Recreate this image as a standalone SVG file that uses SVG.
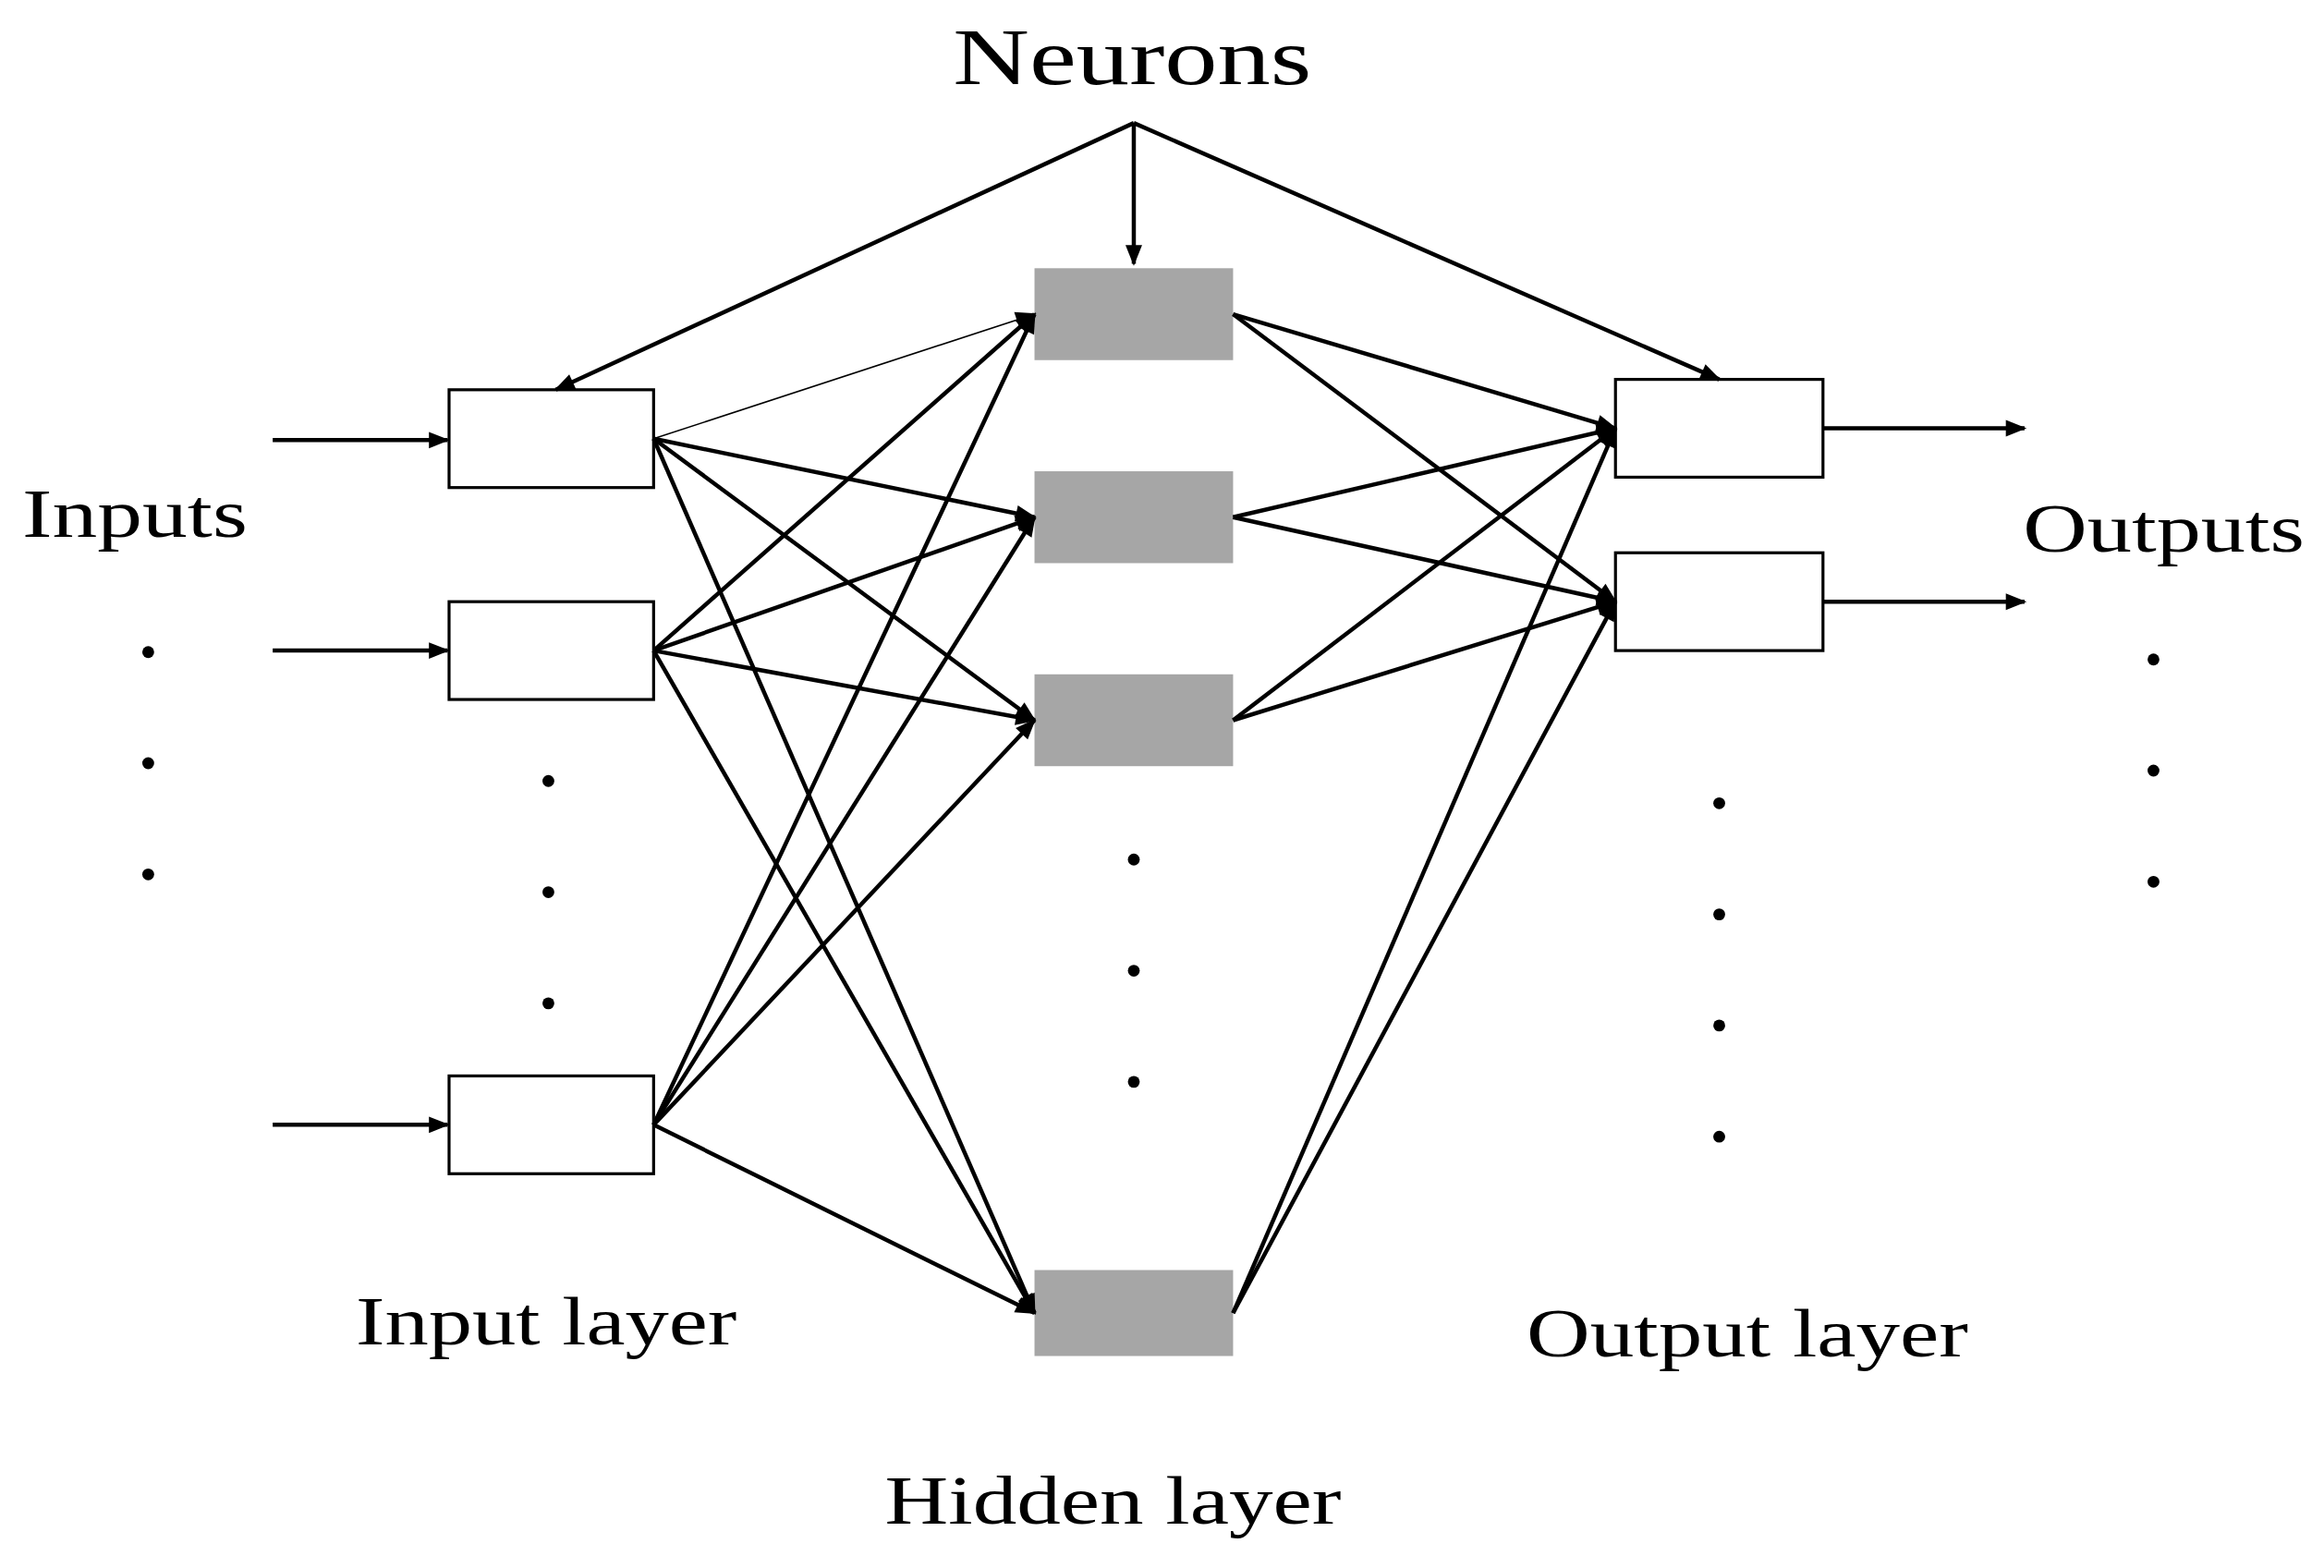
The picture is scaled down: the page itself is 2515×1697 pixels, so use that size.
<svg xmlns="http://www.w3.org/2000/svg" width="2515" height="1697" viewBox="0 0 2515 1697">
<style>
.ib{fill:#fff;stroke:#000;stroke-width:2}
.hb{fill:#a6a6a6}
.t{font-family:"Liberation Serif",serif;fill:#000}
.c line{stroke:#000;stroke-width:2.8;marker-end:url(#a)}
.d{fill:#000}
</style>
<defs><marker id="a" viewBox="0 0 10 10" refX="9" refY="5" markerWidth="16" markerHeight="14" orient="auto" markerUnits="userSpaceOnUse"><path d="M0,1L10,5L0,9z"/></marker></defs>
<rect width="2515" height="1697" fill="#fff"/>
<g transform="scale(1.6039)">
<g id="n-in1"><rect class="ib" x="303" y="263" width="138" height="66"/></g>
<g id="n-in2"><rect class="ib" x="303" y="406" width="138" height="66"/></g>
<g id="n-in3"><rect class="ib" x="303" y="726" width="138" height="66"/></g>
<g id="n-h1"><rect class="hb" x="698" y="181" width="134" height="62"/></g>
<g id="n-h2"><rect class="hb" x="698" y="318" width="134" height="62"/></g>
<g id="n-h3"><rect class="hb" x="698" y="455" width="134" height="62"/></g>
<g id="n-h4"><rect class="hb" x="698" y="857" width="134" height="58"/></g>
<g id="n-o1"><rect class="ib" x="1090" y="256" width="140" height="66"/></g>
<g id="n-o2"><rect class="ib" x="1090" y="373" width="140" height="66"/></g>
<g class="c" id="connectors">
<line x1="765" y1="83" x2="375" y2="263"/>
<line x1="765" y1="83" x2="765" y2="178"/>
<line x1="765" y1="83" x2="1160" y2="256"/>
<line x1="184" y1="297" x2="302" y2="297"/>
<line x1="184" y1="439" x2="302" y2="439"/>
<line x1="184" y1="759" x2="302" y2="759"/>
<line x1="1230" y1="289" x2="1366" y2="289"/>
<line x1="1230" y1="406" x2="1366" y2="406"/>
<line x1="441" y1="296" x2="698" y2="212" style="stroke-width:1"/>
<line x1="441" y1="296" x2="698" y2="349"/>
<line x1="441" y1="296" x2="698" y2="486"/>
<line x1="441" y1="296" x2="698" y2="886"/>
<line x1="441" y1="439" x2="698" y2="212"/>
<line x1="441" y1="439" x2="698" y2="349"/>
<line x1="441" y1="439" x2="698" y2="486"/>
<line x1="441" y1="439" x2="698" y2="886"/>
<line x1="441" y1="759" x2="698" y2="212"/>
<line x1="441" y1="759" x2="698" y2="349"/>
<line x1="441" y1="759" x2="698" y2="486"/>
<line x1="441" y1="759" x2="698" y2="886"/>
<line x1="832" y1="212" x2="1090" y2="289"/>
<line x1="832" y1="212" x2="1090" y2="406"/>
<line x1="832" y1="349" x2="1090" y2="289"/>
<line x1="832" y1="349" x2="1090" y2="406"/>
<line x1="832" y1="486" x2="1090" y2="289"/>
<line x1="832" y1="486" x2="1090" y2="406"/>
<line x1="832" y1="886" x2="1090" y2="289"/>
<line x1="832" y1="886" x2="1090" y2="406"/>
</g>
<g class="d">
<circle cx="100" cy="440" r="4"/><circle cx="100" cy="515" r="4"/><circle cx="100" cy="590" r="4"/>
<circle cx="370" cy="527" r="4"/><circle cx="370" cy="602" r="4"/><circle cx="370" cy="677" r="4"/>
<circle cx="765" cy="580" r="4"/><circle cx="765" cy="655" r="4"/><circle cx="765" cy="730" r="4"/>
<circle cx="1160" cy="542" r="4"/><circle cx="1160" cy="617" r="4"/><circle cx="1160" cy="692" r="4"/><circle cx="1160" cy="767" r="4"/>
<circle cx="1453" cy="445" r="4"/><circle cx="1453" cy="520" r="4"/><circle cx="1453" cy="595" r="4"/>
</g>
<text class="t" x="643" y="57" font-size="54" textLength="242" lengthAdjust="spacingAndGlyphs">Neurons</text>
<text class="t" x="15" y="362" font-size="46" textLength="152" lengthAdjust="spacingAndGlyphs">Inputs</text>
<text class="t" x="1365" y="372" font-size="46" textLength="190" lengthAdjust="spacingAndGlyphs">Outputs</text>
<text class="t" x="240" y="907" font-size="46" textLength="257" lengthAdjust="spacingAndGlyphs">Input layer</text>
<text class="t" x="597" y="1028" font-size="46" textLength="308" lengthAdjust="spacingAndGlyphs">Hidden layer</text>
<text class="t" x="1030" y="915" font-size="46" textLength="298" lengthAdjust="spacingAndGlyphs">Output layer</text>
</g>
</svg>
